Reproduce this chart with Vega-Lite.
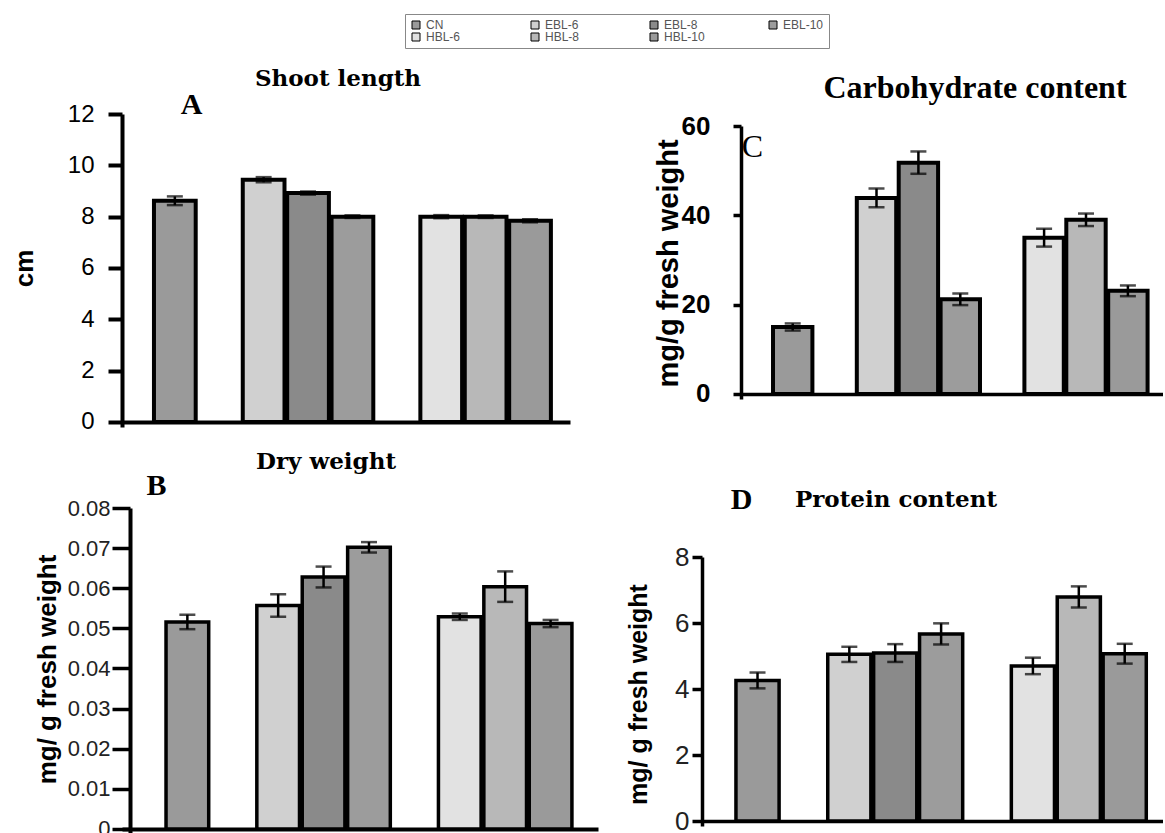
{
  "$schema": "https://vega.github.io/schema/vega-lite/v6.json",
  "background": "white",
  "padding": {"left": 11, "top": 13, "right": 0, "bottom": 0},
  "config": {
    "view": {"stroke": null},
    "axis": {"grid": false, "domainColor": "black", "tickColor": "black", "labelColor": "black", "titleColor": "black"}
  },
  "datasets": {
    "shoot": [
      {"trt": "CN", "value": 8.62, "err": 0.17},
      {"trt": "EBL-6", "value": 9.44, "err": 0.1},
      {"trt": "EBL-8", "value": 8.92, "err": 0.06},
      {"trt": "EBL-10", "value": 8.0, "err": 0.05},
      {"trt": "HBL-6", "value": 8.0, "err": 0.06},
      {"trt": "HBL-8", "value": 8.0, "err": 0.05},
      {"trt": "HBL-10", "value": 7.84, "err": 0.06}
    ],
    "dry": [
      {"trt": "CN", "value": 0.0516, "err": 0.0018},
      {"trt": "EBL-6", "value": 0.0557, "err": 0.0028},
      {"trt": "EBL-8", "value": 0.0628, "err": 0.0026},
      {"trt": "EBL-10", "value": 0.0702, "err": 0.0013},
      {"trt": "HBL-6", "value": 0.0529, "err": 0.0008},
      {"trt": "HBL-8", "value": 0.0604, "err": 0.0038},
      {"trt": "HBL-10", "value": 0.0512, "err": 0.0009}
    ],
    "carb": [
      {"trt": "CN", "value": 15.0, "err": 0.8},
      {"trt": "EBL-6", "value": 43.9, "err": 2.1},
      {"trt": "EBL-8", "value": 51.8, "err": 2.5},
      {"trt": "EBL-10", "value": 21.2, "err": 1.3},
      {"trt": "HBL-6", "value": 35.0, "err": 2.0},
      {"trt": "HBL-8", "value": 39.0, "err": 1.4},
      {"trt": "HBL-10", "value": 23.1, "err": 1.2}
    ],
    "protein": [
      {"trt": "CN", "value": 4.26, "err": 0.24},
      {"trt": "EBL-6", "value": 5.05, "err": 0.23},
      {"trt": "EBL-8", "value": 5.09, "err": 0.27},
      {"trt": "EBL-10", "value": 5.67, "err": 0.32},
      {"trt": "HBL-6", "value": 4.7, "err": 0.25},
      {"trt": "HBL-8", "value": 6.79, "err": 0.32},
      {"trt": "HBL-10", "value": 5.07, "err": 0.3}
    ]
  },
  "bounds": "flush",
  "spacing": 580,
  "hconcat": [
    {
      "bounds": "flush",
      "spacing": 81,
      "vconcat": [
        {
          "width": 448, "height": 313,
          "data": {"name": "shoot"},
          "title": {"text": "Shoot length", "anchor": "start", "frame": "group", "align": "center", "dx": 216, "dy": 13, "baseline": "middle", "offset": 0, "font": "DejaVu Serif", "fontSize": 23, "fontWeight": "bold", "color": "black"},
          "layer": [
            {
              "mark": {"type": "bar", "stroke": "black", "strokeWidth": 4},
              "encoding": {
                "x": {"field": "trt", "type": "nominal",
                  "scale": {"domain": ["CN", "g1", "EBL-6", "EBL-8", "EBL-10", "g2", "HBL-6", "HBL-8", "HBL-10"], "paddingInner": 0.06, "paddingOuter": 0.575, "align": 0.626},
                  "axis": {"title": "A", "labels": false, "ticks": false, "domainWidth": 4, "offset": -5, "titleX": 69, "titleY": -318, "titleAngle": 0, "titleAlign": "center", "titleBaseline": "middle", "titleFont": "Liberation Serif", "titleFontSize": 30, "titleFontWeight": "bold"}},
                "y": {"field": "value", "type": "quantitative", "title": "cm",
                  "scale": {"domain": [-0.195, 12], "nice": false},
                  "axis": {"values": [0, 2, 4, 6, 8, 10, 12], "domainWidth": 4, "tickWidth": 4, "tickSize": 14, "labelFont": "Liberation Sans", "labelFontSize": 24, "labelPadding": 14, "titleFont": "Liberation Sans", "titleFontSize": 26, "titleFontWeight": "bold", "titleAngle": 270, "titleX": -98, "titleY": 154, "titleBaseline": "middle", "titleAlign": "center"}},
                "fill": {"field": "trt", "type": "nominal",
                  "scale": {"domain": ["CN", "EBL-6", "EBL-8", "EBL-10", "HBL-6", "HBL-8", "HBL-10"], "range": ["#9a9a9a", "#d0d0d0", "#8a8a8a", "#9c9c9c", "#e2e2e2", "#b8b8b8", "#9a9a9a"]},
                  "legend": {"orient": "none", "legendX": 283, "legendY": -100, "direction": "horizontal", "columns": 4, "title": null, "gridAlign": "all", "symbolType": "square", "symbolSize": 64, "symbolStrokeColor": "#555", "symbolStrokeWidth": 1, "labelFont": "Liberation Sans", "labelFontSize": 12, "labelColor": "#555", "strokeColor": "#888", "fillColor": "white", "padding": 5, "columnPadding": 62, "rowPadding": 0}}
              }
            },
            {
              "mark": {"type": "errorbar", "ticks": true, "size": 16, "thickness": 2.5, "color": "black"},
              "encoding": {
                "x": {"field": "trt", "type": "nominal"},
                "y": {"field": "value", "type": "quantitative", "title": "cm"},
                "yError": {"field": "err"}
              }
            }
          ]
        },
        {
          "width": 476, "height": 326,
          "data": {"name": "dry"},
          "title": {"text": "Dry weight", "anchor": "start", "frame": "group", "align": "center", "dx": 204, "dy": 15, "baseline": "middle", "offset": 0, "font": "DejaVu Serif", "fontSize": 23, "fontWeight": "bold", "color": "black"},
          "layer": [
            {
              "mark": {"type": "bar", "stroke": "black", "strokeWidth": 3.5},
              "encoding": {
                "x": {"field": "trt", "type": "nominal",
                  "scale": {"domain": ["CN", "g1", "EBL-6", "EBL-8", "EBL-10", "g2", "HBL-6", "HBL-8", "HBL-10"], "paddingInner": 0.06, "paddingOuter": 0.772, "align": 0.628},
                  "axis": {"title": "B", "labels": false, "ticks": false, "domainWidth": 4, "offset": -5, "titleX": 34, "titleY": -344, "titleAngle": 0, "titleAlign": "center", "titleBaseline": "middle", "titleFont": "Liberation Serif", "titleFontSize": 30, "titleFontWeight": "bold"}},
                "y": {"field": "value", "type": "quantitative", "title": "mg/ g fresh weight",
                  "scale": {"domain": [-0.00125, 0.08], "nice": false},
                  "axis": {"values": [0, 0.01, 0.02, 0.03, 0.04, 0.05, 0.06, 0.07, 0.08], "format": ".2~f", "offset": -8, "domainWidth": 4, "tickWidth": 3.5, "tickSize": 18, "labelFont": "Liberation Sans", "labelFontSize": 22, "labelColor": "#222", "labelPadding": 2, "titleFont": "Liberation Sans", "titleFontSize": 26, "titleFontWeight": "bold", "titleAngle": 270, "titleX": -83, "titleY": 161, "titleBaseline": "middle", "titleAlign": "center"}},
                "fill": {"field": "trt", "type": "nominal"}
              }
            },
            {
              "mark": {"type": "errorbar", "ticks": true, "size": 16, "thickness": 2.5, "color": "black"},
              "encoding": {
                "x": {"field": "trt", "type": "nominal"},
                "y": {"field": "value", "type": "quantitative", "title": "mg/ g fresh weight"},
                "yError": {"field": "err"}
              }
            }
          ]
        }
      ]
    },
    {
      "bounds": "flush",
      "spacing": 0,
      "vconcat": [
        {"width": 1, "height": 12, "data": {"values": [{"a": 0}]}, "mark": {"type": "point", "opacity": 0}, "encoding": {}},
        {
          "bounds": "flush",
          "spacing": 0,
          "hconcat": [
            {"width": 39, "height": 1, "data": {"values": [{"a": 0}]}, "mark": {"type": "point", "opacity": 0}, "encoding": {}},
            {
              "width": 422, "height": 273,
              "data": {"name": "carb"},
              "title": {"text": "Carbohydrate content", "anchor": "start", "frame": "group", "align": "center", "dx": 234, "dy": 7, "baseline": "middle", "offset": 0, "font": "Liberation Serif", "fontSize": 32, "fontWeight": "bold", "color": "black"},
              "layer": [
                {
                  "mark": {"type": "bar", "stroke": "black", "strokeWidth": 4},
                  "encoding": {
                    "x": {"field": "trt", "type": "nominal",
                      "scale": {"domain": ["CN", "g1", "EBL-6", "EBL-8", "EBL-10", "g2", "HBL-6", "HBL-8", "HBL-10"], "paddingInner": 0.06, "paddingOuter": 0.566, "align": 0.675},
                      "axis": {"title": "C", "labels": false, "ticks": false, "domainWidth": 3.5, "offset": -5, "titleX": 11, "titleY": -248, "titleAngle": 0, "titleAlign": "center", "titleBaseline": "middle", "titleFont": "Liberation Serif", "titleFontSize": 32, "titleFontWeight": "normal"}},
                    "y": {"field": "value", "type": "quantitative", "title": "mg/g fresh weight",
                      "scale": {"domain": [-1.12, 60], "nice": false},
                      "axis": {"values": [0, 20, 40, 60], "domainWidth": 3.5, "tickWidth": 3.5, "tickSize": 8, "labelFont": "Liberation Sans Narrow, Liberation Sans", "labelFontSize": 26, "labelFontWeight": "bold", "labelPadding": 23, "titleFont": "Liberation Sans", "titleFontSize": 29, "titleFontWeight": "bold", "titleAngle": 270, "titleX": -73, "titleY": 137, "titleBaseline": "middle", "titleAlign": "center"}},
                    "fill": {"field": "trt", "type": "nominal"}
                  }
                },
                {
                  "mark": {"type": "errorbar", "ticks": true, "size": 16, "thickness": 2.5, "color": "black"},
                  "encoding": {
                    "x": {"field": "trt", "type": "nominal"},
                    "y": {"field": "value", "type": "quantitative", "title": "mg/g fresh weight"},
                    "yError": {"field": "err"}
                  }
                }
              ]
            }
          ]
        },
        {"width": 1, "height": 431, "data": {"values": [{"a": 0}]}, "mark": {"type": "point", "opacity": 0}, "encoding": {}},
        {
          "width": 461, "height": 269,
          "data": {"name": "protein"},
          "title": {"text": "Protein content", "anchor": "start", "frame": "group", "align": "center", "dx": 194, "dy": 39, "baseline": "middle", "offset": 0, "font": "DejaVu Serif", "fontSize": 23, "fontWeight": "bold", "color": "black"},
          "layer": [
            {
              "mark": {"type": "bar", "stroke": "black", "strokeWidth": 3.5},
              "encoding": {
                "x": {"field": "trt", "type": "nominal",
                  "scale": {"domain": ["CN", "g1", "EBL-6", "EBL-8", "EBL-10", "g2", "HBL-6", "HBL-8", "HBL-10"], "paddingInner": 0.06, "paddingOuter": 0.552, "align": 0.67},
                  "axis": {"title": "D", "labels": false, "ticks": false, "domainWidth": 3.5, "offset": -5, "titleX": 39, "titleY": -322, "titleAngle": 0, "titleAlign": "center", "titleBaseline": "middle", "titleFont": "Liberation Serif", "titleFontSize": 30, "titleFontWeight": "bold"}},
                "y": {"field": "value", "type": "quantitative", "title": "mg/ g fresh weight",
                  "scale": {"domain": [-0.15, 8], "nice": false},
                  "axis": {"values": [0, 2, 4, 6, 8], "domainWidth": 3.5, "tickWidth": 3.5, "tickSize": 10, "labelFont": "Liberation Sans", "labelFontSize": 26, "labelColor": "#222", "labelPadding": 3, "titleFont": "Liberation Sans", "titleFontSize": 25, "titleFontWeight": "bold", "titleAngle": 270, "titleX": -64, "titleY": 137, "titleBaseline": "middle", "titleAlign": "center"}},
                "fill": {"field": "trt", "type": "nominal"}
              }
            },
            {
              "mark": {"type": "errorbar", "ticks": true, "size": 16, "thickness": 2.5, "color": "black"},
              "encoding": {
                "x": {"field": "trt", "type": "nominal"},
                "y": {"field": "value", "type": "quantitative", "title": "mg/ g fresh weight"},
                "yError": {"field": "err"}
              }
            }
          ]
        }
      ]
    }
  ]
}
